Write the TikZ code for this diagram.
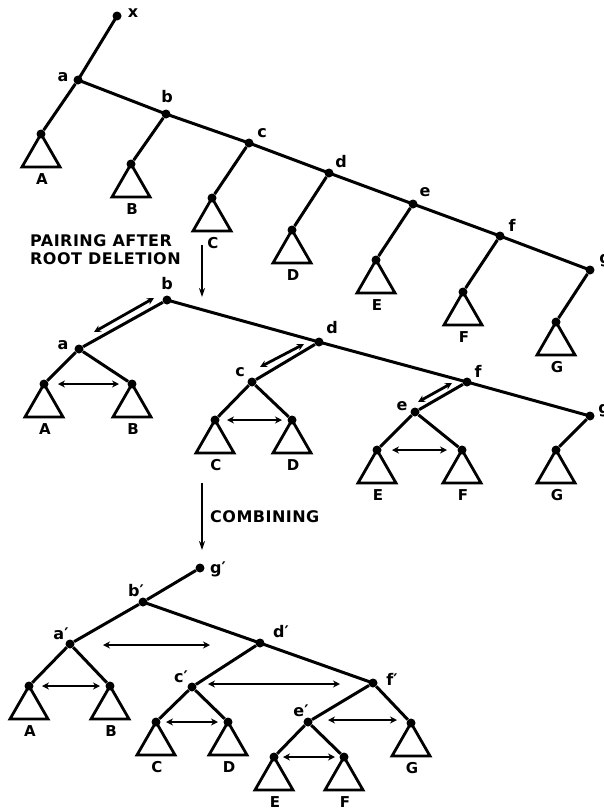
\documentclass[tikz,border=0pt]{standalone}
\usepackage{fontspec}
\setmainfont{DejaVu Sans}
\newfontfamily\labfont{DejaVu Sans Bold}
\newfontfamily\capfont[LetterSpace=3]{DejaVu Sans Bold}
\usetikzlibrary{arrows.meta,calc}
\tikzset{
  tdot/.style={circle,fill=black,inner sep=0pt,minimum size=9pt},
  tline/.style={line width=3pt},
  tlabel/.style={font=\labfont\fontsize{16}{16}\selectfont,inner sep=0pt},
  tleaflabel/.style={font=\labfont\fontsize{15}{15}\selectfont,inner sep=0pt},
  tcaption/.style={font=\capfont\fontsize{16}{18}\selectfont,inner sep=0pt,align=left,anchor=west},
  tpair/.style={line width=2.8pt,{Stealth[length=7pt,width=7pt]}-{Stealth[length=7pt,width=7pt]}},
  tdown/.style={line width=1.8pt,-{Stealth[length=9pt,width=6pt]}},
  pics/subtree/.style={code={
    \draw[line width=2.8pt,line join=miter] (0,0) -- (-19,33) -- (19,33) -- cycle;
    \node[tleaflabel] at (1,45.5) {#1};}}
}
\begin{document}
\begin{tikzpicture}[x=1pt,y=-1pt]
\useasboundingbox (0,0) rectangle (603,811);

% ---------- top tree ----------
\node[tdot] (x) at (117,16) {};
\node[tdot] (a) at (78,80) {};
\node[tdot] (b) at (166,114) {};
\node[tdot] (c) at (249,143) {};
\node[tdot] (d) at (329,173) {};
\node[tdot] (e) at (413,204) {};
\node[tdot] (f) at (500,236) {};
\node[tdot] (g) at (590,270) {};
\node[tdot] (lA) at (41,134) {};
\node[tdot] (lB) at (131,164) {};
\node[tdot] (lC) at (212,198) {};
\node[tdot] (lD) at (292,230) {};
\node[tdot] (lE) at (376,260) {};
\node[tdot] (lF) at (463,292) {};
\node[tdot] (lG) at (556,322) {};
\draw[tline] (x.center) -- (a.center) -- (b.center) -- (c.center) -- (d.center) -- (e.center) -- (f.center) -- (g.center);
\draw[tline] (a) -- (lA);
\draw[tline] (b) -- (lB);
\draw[tline] (c) -- (lC);
\draw[tline] (d) -- (lD);
\draw[tline] (e) -- (lE);
\draw[tline] (f) -- (lF);
\draw[tline] (g) -- (lG);
\pic at (lA) {subtree=A};
\pic at (lB) {subtree=B};
\pic at (lC) {subtree=C};
\pic at (lD) {subtree=D};
\pic at (lE) {subtree=E};
\pic at (lF) {subtree=F};
\pic at (lG) {subtree=G};
\node[tlabel] (tx) at (133,13) {x};
\node[tlabel] (ta) at (63,77) {a};
\node[tlabel] (tb) at (167,97) {b};
\node[tlabel] (tc) at (262,133) {c};
\node[tlabel] (td) at (341,162) {d};
\node[tlabel] (te) at (425,192) {e};
\node[tlabel] (tf) at (512,225) {f};
\node[tlabel] (tg) at (605,261) {g};

% ---------- caption 1 ----------
\node[tcaption] (cap1) at (30,250) {PAIRING AFTER\\ROOT DELETION};
\coordinate (ar1s) at (202,245);
\coordinate (ar1e) at (202,297);
\draw[tdown] (ar1s) -- (ar1e);

% ---------- middle tree ----------
\node[tdot] (b2) at (167,300) {};
\node[tdot] (a2) at (79,349) {};
\node[tdot] (d2) at (319,342) {};
\node[tdot] (c2) at (252,382) {};
\node[tdot] (f2) at (467,382) {};
\node[tdot] (e2) at (415,412) {};
\node[tdot] (g2) at (590,416) {};
\node[tdot] (mA) at (44,384) {};
\node[tdot] (mB) at (132,384) {};
\node[tdot] (mC) at (215,420) {};
\node[tdot] (mD) at (292,420) {};
\node[tdot] (mE) at (377,450) {};
\node[tdot] (mF) at (462,450) {};
\node[tdot] (mG) at (556,450) {};
\draw[tline] (b2.center) -- (d2.center) -- (f2.center) -- (g2.center);
\draw[tline] (b2) -- (a2);
\draw[tline] (d2) -- (c2);
\draw[tline] (f2) -- (e2);
\draw[tline] (a2) -- (mA);
\draw[tline] (a2) -- (mB);
\draw[tline] (c2) -- (mC);
\draw[tline] (c2) -- (mD);
\draw[tline] (e2) -- (mE);
\draw[tline] (e2) -- (mF);
\draw[tline] (g2) -- (mG);
\pic at (mA) {subtree=A};
\pic at (mB) {subtree=B};
\pic at (mC) {subtree=C};
\pic at (mD) {subtree=D};
\pic at (mE) {subtree=E};
\pic at (mF) {subtree=F};
\pic at (mG) {subtree=G};
\node[tlabel] (mb) at (167,284) {b};
\node[tlabel] (ma) at (63,345) {a};
\node[tlabel] (mc) at (240,372) {c};
\node[tlabel] (md) at (332,328) {d};
\node[tlabel] (me) at (402,406) {e};
\node[tlabel] (mf) at (478,371) {f};
\node[tlabel] (mg) at (604,411) {g};
% pairing arrows
\coordinate (p1s) at (154,298); \coordinate (p1e) at (94,332);
\coordinate (p2s) at (304,344); \coordinate (p2e) at (260,367);
\coordinate (p3s) at (452,383); \coordinate (p3e) at (418,402);
\draw[tpair] (p1s) -- (p1e);
\draw[tpair] (p2s) -- (p2e);
\draw[tpair] (p3s) -- (p3e);
\coordinate (h1s) at (58,384); \coordinate (h1e) at (119,384);
\coordinate (h2s) at (227,420); \coordinate (h2e) at (282,420);
\coordinate (h3s) at (392,450); \coordinate (h3e) at (447,450);
\draw[tpair] (h1s) -- (h1e);
\draw[tpair] (h2s) -- (h2e);
\draw[tpair] (h3s) -- (h3e);

% ---------- caption 2 ----------
\node[tcaption] (cap2) at (210,517) {COMBINING};
\coordinate (ar2s) at (202,483);
\coordinate (ar2e) at (202,550);
\draw[tdown] (ar2s) -- (ar2e);

% ---------- bottom tree ----------
\node[tdot] (g3) at (200,568) {};
\node[tdot] (b3) at (143,602) {};
\node[tdot] (a3) at (70,644) {};
\node[tdot] (d3) at (260,643) {};
\node[tdot] (c3) at (192,687) {};
\node[tdot] (f3) at (373,683) {};
\node[tdot] (e3) at (308,722) {};
\node[tdot] (bA) at (29,686) {};
\node[tdot] (bB) at (110,686) {};
\node[tdot] (bC) at (156,722) {};
\node[tdot] (bD) at (228,722) {};
\node[tdot] (bE) at (274,757) {};
\node[tdot] (bF) at (344,757) {};
\node[tdot] (bG) at (411,723) {};
\draw[tline] (g3) -- (b3);
\draw[tline] (b3) -- (a3);
\draw[tline] (b3.center) -- (d3.center) -- (f3.center);
\draw[tline] (a3) -- (bA);
\draw[tline] (a3) -- (bB);
\draw[tline] (d3) -- (c3);
\draw[tline] (c3) -- (bC);
\draw[tline] (c3) -- (bD);
\draw[tline] (f3) -- (e3);
\draw[tline] (f3) -- (bG);
\draw[tline] (e3) -- (bE);
\draw[tline] (e3) -- (bF);
\pic at (bA) {subtree=A};
\pic at (bB) {subtree=B};
\pic at (bC) {subtree=C};
\pic at (bD) {subtree=D};
\pic at (bE) {subtree=E};
\pic at (bF) {subtree=F};
\pic at (bG) {subtree=G};
\node[tlabel] (bg) at (218,569) {g′};
\node[tlabel] (bb) at (136,591) {b′};
\node[tlabel] (ba) at (61,634) {a′};
\node[tlabel] (bd) at (281,632) {d′};
\node[tlabel] (bc) at (181,677) {c′};
\node[tlabel] (bf) at (392,679) {f′};
\node[tlabel] (be) at (301,711) {e′};
\coordinate (q1s) at (103,645); \coordinate (q1e) at (210,645);
\coordinate (q2s) at (42,686);  \coordinate (q2e) at (100,686);
\coordinate (q3s) at (208,684); \coordinate (q3e) at (340,684);
\coordinate (q4s) at (166,722); \coordinate (q4e) at (218,722);
\coordinate (q5s) at (328,720); \coordinate (q5e) at (397,720);
\coordinate (q6s) at (283,757); \coordinate (q6e) at (335,757);
\draw[tpair] (q1s) -- (q1e);
\draw[tpair] (q2s) -- (q2e);
\draw[tpair] (q3s) -- (q3e);
\draw[tpair] (q4s) -- (q4e);
\draw[tpair] (q5s) -- (q5e);
\draw[tpair] (q6s) -- (q6e);
\end{tikzpicture}
\end{document}
